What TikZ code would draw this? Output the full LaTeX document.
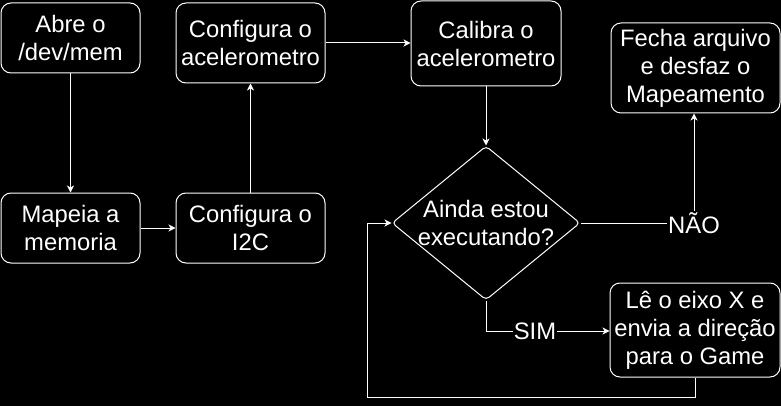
\documentclass[tikz,border=0pt]{standalone}
\usepackage{fontspec}
\setmainfont{Liberation Sans}
\usetikzlibrary{arrows.meta,shapes.geometric}
\begin{document}
\begin{tikzpicture}[x=1pt,y=-1pt,
  every node/.style={text=white},
  txt/.style={font=\fontsize{23.8}{28}\selectfont, align=center, inner sep=0pt},
  box/.style={txt, draw=white, line width=1pt, rounded corners=10pt},
  conn/.style={draw=white, line width=1pt},
  arr/.style={conn, -{Stealth[length=7pt,width=7pt,inset=2pt]}},
  lbl/.style={txt, fill=black, inner sep=1pt}
]
\fill[black] (0,0) rectangle (781,406);
\useasboundingbox (0,0) rectangle (781,406);

\node[box, minimum width=139pt, minimum height=70pt] (abre) at (70.5,38) {Abre o\\/dev/mem};
\node[box, minimum width=139pt, minimum height=70pt] (mapeia) at (70.5,228) {Mapeia a\\memoria};
\node[box, minimum width=149pt, minimum height=80pt] (confacel) at (250.5,43) {Configura o\\acelerometro};
\node[box, minimum width=149pt, minimum height=70pt] (confi2c) at (250.5,228) {Configura o\\I2C};
\node[box, minimum width=150pt, minimum height=85pt] (calibra) at (486,43.5) {Calibra o\\acelerometro};
\node[box, minimum width=169pt, minimum height=90pt] (fecha) at (695.5,68) {Fecha arquivo\\e desfaz o\\Mapeamento};
\node[box, minimum width=170pt, minimum height=94pt] (le) at (695,330) {Lê o eixo X e\\envia a direção\\para o Game};

\node[diamond, draw=white, line width=1pt, rounded corners=4pt, inner sep=0pt,
      minimum width=188pt, minimum height=154pt] (dec) at (486,223) {};
\node[txt] (dectxt) at (dec.center) {Ainda estou\\executando?};

\node[lbl] (nao) at (694,223) {NÃO};
\node[lbl] (sim) at (535,331) {SIM};
\coordinate (loopc) at (367,397);

\draw[arr] (abre.south) -- (mapeia.north);
\draw[arr] (mapeia.east) -- (confi2c.west);
\draw[arr] (confi2c.north) -- (confacel.south);
\draw[arr] (confacel.east) -- (calibra.west |- confacel.east);
\draw[arr] (calibra.south) -- (dec.north);
\draw[conn] (dec.east) -- (nao.west);
\draw[arr] (nao.north) -- (nao.north |- fecha.south);
\draw[conn] (dec.south) |- (sim.west);
\draw[arr] (sim.east) -- (le.west |- sim.east);
\draw[arr] (le.south) |- (loopc) |- (dec.west);
\end{tikzpicture}
\end{document}
